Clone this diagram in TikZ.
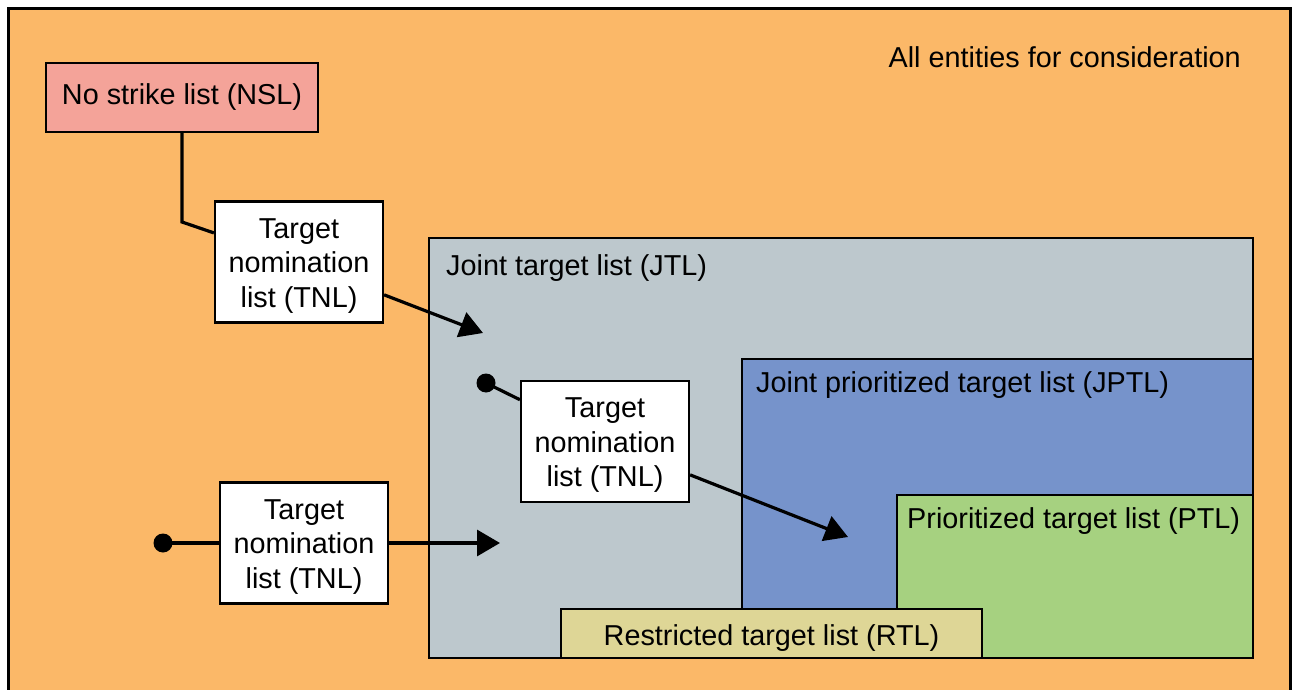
\documentclass[tikz,border=0pt]{standalone}
\usepackage{fontspec}
\setmainfont{Liberation Sans}
\usetikzlibrary{arrows.meta}

\definecolor{bgorange}{RGB}{251,184,104}
\definecolor{nslpink}{RGB}{244,163,153}
\definecolor{jtlgrey}{RGB}{189,200,205}
\definecolor{jptlblue}{RGB}{118,147,203}
\definecolor{ptlgreen}{RGB}{166,209,128}
\definecolor{rtlsand}{RGB}{222,214,150}

% three-line nomination list caption, first line given a taller strut
\newcommand{\tnltext}{\rule{0pt}{27pt}Target\\nomination\\list (TNL)}

\tikzset{
  region/.style={draw=black, line width=2.2pt},
  listlabel/.style={inner sep=0pt, anchor=base west, font=\fontsize{28.8}{36}\selectfont},
  tnlbox/.style={draw=black, fill=white, line width=2.2pt, inner sep=0pt,
    minimum width=168pt, minimum height=121pt, align=center,
    font=\fontsize{28.8}{34.5}\selectfont},
  nslbox/.style={draw=black, fill=nslpink, line width=2.2pt, inner sep=0pt,
    minimum width=272pt, minimum height=69pt,
    font=\fontsize{28.8}{36}\selectfont},
  link/.style={line width=3.2pt, draw=black},
  flow/.style={link, -{Triangle[length=23pt,width=26pt]}},
  dotend/.style={circle, fill=black, inner sep=0pt, minimum size=19pt},
}

\begin{document}
\begin{tikzpicture}[x=1pt, y=-1pt]
  \clip (0,0) rectangle (1296,690);
  \fill[white] (0,0) rectangle (1296,690);

  % all entities
  \draw[region, line width=3pt, fill=bgorange] (8,9) rectangle (1290,720);
  \node[listlabel, anchor=base east] (alltxt) at (1241,68) {All entities for consideration};

  % nested target lists
  \draw[region, fill=jtlgrey] (429,238) rectangle (1253,658);
  \node[listlabel] (jtltxt) at (446,275) {Joint target list (JTL)};
  \draw[region, fill=jptlblue] (742,359) rectangle (1253,658);
  \node[listlabel] (jptltxt) at (756,392) {Joint prioritized target list (JPTL)};
  \draw[region, fill=ptlgreen] (897,495) rectangle (1253,658);
  \node[listlabel] (ptltxt) at (907,528) {Prioritized target list (PTL)};
  \draw[region, fill=rtlsand] (561,609) rectangle (982,658);
  \node[listlabel, anchor=base] (rtltxt) at (771.5,645) {Restricted target list (RTL)};

  % no strike list
  \node[nslbox] (nsl) at (182,97.5) {No strike list (NSL)};

  % nomination lists
  \node[tnlbox] (tnla) at (299,262) {\tnltext};
  \node[tnlbox] (tnlb) at (605,441.5) {\tnltext};
  \node[tnlbox] (tnlc) at (304,543) {\tnltext};

  % connector ends
  \coordinate (nslbend) at (182,222);
  \coordinate (tipa) at (483,333);
  \coordinate (tipb) at (848,537);
  \coordinate (tipc) at (500,543);
  \node[dotend] (dotb) at (486,383) {};
  \node[dotend] (dotc) at (163,543) {};

  % connectors
  \draw[link] (nsl) -- (nslbend) -- (tnla);
  \draw[flow] (tnla) -- (tipa);
  \draw[link] (dotb.center) -- (tnlb);
  \draw[flow] (tnlb) -- (tipb);
  \draw[link] (dotc.center) -- (tnlc);
  \draw[flow] (tnlc) -- (tipc);
\end{tikzpicture}
\end{document}
